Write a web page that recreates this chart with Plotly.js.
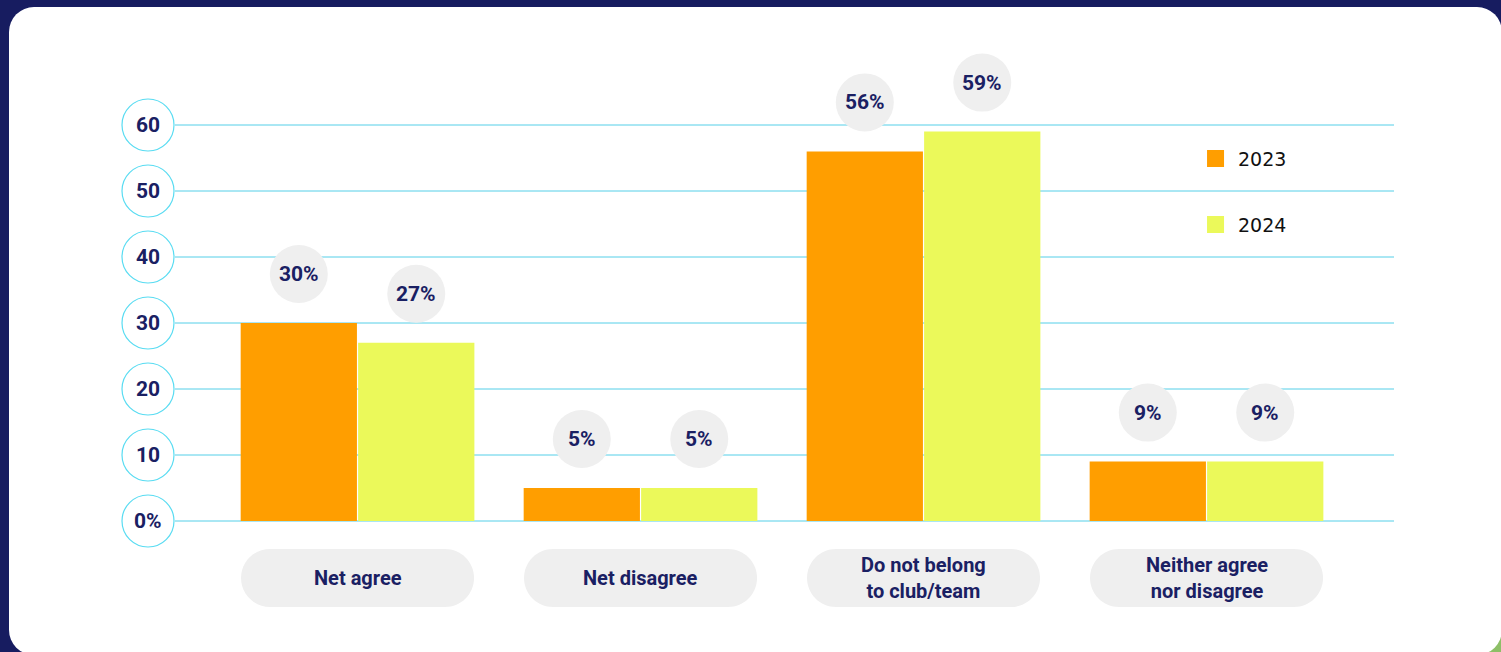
<!DOCTYPE html>
<html>
<head>
<meta charset="utf-8">
<script src="https://cdn.plot.ly/plotly-3.0.1.min.js"></script>
<style>
  html, body { margin: 0; padding: 0; width: 1501px; height: 652px; overflow: hidden; background: #171c60; }
  #corner { position: absolute; right: 0; bottom: 0; width: 40px; height: 40px; background: #8dbf67; }
  #card { position: absolute; left: 9px; top: 7px; width: 1493px; height: 648px; background: #ffffff; border-radius: 25px; }
  #chart { position: absolute; left: 0; top: 0; width: 1501px; height: 652px; }
</style>
</head>
<body>
<div id="corner"></div>
<div id="card"></div>
<div id="chart"></div>
<script>
// ---- data ----
const categories = ['Net agree', 'Net disagree', 'Do not belong<br>to club/team', 'Neither agree<br>nor disagree'];
const seriesNames = ['2023', '2024'];
const values2023 = [30, 5, 56, 9];
const values2024 = [27, 5, 59, 9];
const yTickValues = [0, 10, 20, 30, 40, 50, 60];
const yTickLabels = ['0%', '10', '20', '30', '40', '50', '60'];

// ---- style ----
const NAVY = '#1a2063';
const ORANGE = '#ff9e00';
const YELLOW = '#ebf95a';
const CYAN = '#58dcf2';
const GRID = '#55cfe8';
const PILL = '#efefef';
const FONT = 'Roboto, "Noto Sans", sans-serif';
const BARGAP = 0.17;
const barOffset = (1 - BARGAP) / 4;
const seriesValues = [values2023, values2024];
const seriesColors = [ORANGE, YELLOW];

const traces = seriesNames.map((name, s) => ({
  type: 'bar',
  name: name,
  x: categories,
  y: seriesValues[s],
  marker: { color: seriesColors[s], line: { width: 0 } },
  hoverinfo: 'skip',
  showlegend: false
}));

const shapes = [];
const annotations = [];

// gridlines
yTickValues.forEach((v) => {
  shapes.push({
    type: 'line', xref: 'paper', yref: 'y', x0: 0, x1: 1, y0: v, y1: v,
    line: { color: GRID, width: 1 }, layer: 'below'
  });
});

// y tick circles + labels
yTickValues.forEach((v, i) => {
  shapes.push({
    type: 'circle', xref: 'paper', yref: 'y',
    xsizemode: 'pixel', ysizemode: 'pixel',
    xanchor: 0, x0: -53, x1: -1,
    yanchor: v, y0: -26, y1: 26,
    fillcolor: '#ffffff', line: { color: CYAN, width: 1.2 }, layer: 'above'
  });
  annotations.push({
    xref: 'paper', yref: 'y', x: 0, xshift: -27, y: v,
    text: yTickLabels[i], showarrow: false, xanchor: 'center', yanchor: 'middle',
    font: { family: FONT, size: 21, color: NAVY, weight: 700 }
  });
});

// value label bubbles
seriesValues.forEach((vals, s) => {
  const dx = s === 0 ? -barOffset : barOffset;
  vals.forEach((v, i) => {
    shapes.push({
      type: 'circle', xref: 'x', yref: 'y',
      xsizemode: 'pixel', ysizemode: 'pixel',
      xanchor: i + dx, x0: -29, x1: 29,
      yanchor: v, y0: 20, y1: 78,
      fillcolor: PILL, line: { width: 0 }, layer: 'above'
    });
    annotations.push({
      xref: 'x', yref: 'y', x: i + dx, y: v, yshift: 49,
      text: v + '%', showarrow: false, xanchor: 'center', yanchor: 'middle',
      font: { family: FONT, size: 21, color: NAVY, weight: 700 }
    });
  });
});

// category pills
const k = 0.5523 * 29;
const pillPath = [
  'M', -87.5, -28,
  'L', 87.5, -28,
  'C', 87.5 + k, -28, 116.5, -57 + k, 116.5, -57,
  'C', 116.5, -57 - k, 87.5 + k, -86, 87.5, -86,
  'L', -87.5, -86,
  'C', -87.5 - k, -86, -116.5, -57 - k, -116.5, -57,
  'C', -116.5, -57 + k, -87.5 - k, -28, -87.5, -28, 'Z'
].join(' ');
categories.forEach((c, i) => {
  shapes.push({
    type: 'path', xref: 'x', yref: 'y',
    xsizemode: 'pixel', ysizemode: 'pixel',
    xanchor: i, yanchor: 0, path: pillPath,
    fillcolor: PILL, line: { width: 0 }, layer: 'below'
  });
  annotations.push({
    xref: 'x', yref: 'y', x: i, y: 0, yshift: -57,
    text: c, showarrow: false, xanchor: 'center', yanchor: 'middle',
    font: { family: FONT, size: 20, color: NAVY, weight: 700 }
  });
});

// legend
const legendX = 0.8536;
const legendY = [0.8025, 0.6925];
seriesNames.forEach((name, s) => {
  shapes.push({
    type: 'rect', xref: 'paper', yref: 'paper',
    xsizemode: 'pixel', ysizemode: 'pixel',
    xanchor: legendX, x0: -8.5, x1: 8.5,
    yanchor: legendY[s], y0: -8.5, y1: 8.5,
    fillcolor: seriesColors[s], line: { width: 0 }
  });
  annotations.push({
    xref: 'paper', yref: 'paper', x: legendX, xshift: 20.5, y: legendY[s],
    text: name, showarrow: false, xanchor: 'left', yanchor: 'middle',
    font: { family: 'DejaVu Sans, sans-serif', size: 19, color: '#111111' }
  });
});

const layout = {
  width: 1501, height: 652,
  margin: { l: 175, r: 107, t: 40, b: 12 },
  paper_bgcolor: 'rgba(0,0,0,0)',
  plot_bgcolor: 'rgba(0,0,0,0)',
  barmode: 'group', bargap: BARGAP, bargroupgap: 0.01,
  showlegend: false,
  xaxis: {
    type: 'category', range: [-0.645, 3.6625],
    showticklabels: false, showgrid: false, zeroline: false, showline: false, ticks: '',
    fixedrange: true
  },
  yaxis: {
    range: [-18.03, 72.88], tickvals: yTickValues, showticklabels: false,
    showgrid: false, zeroline: false, showline: false, ticks: '',
    fixedrange: true
  },
  shapes: shapes,
  annotations: annotations,
  font: { family: FONT }
};

Plotly.newPlot('chart', traces, layout, { displayModeBar: false, staticPlot: true });
</script>
</body>
</html>
